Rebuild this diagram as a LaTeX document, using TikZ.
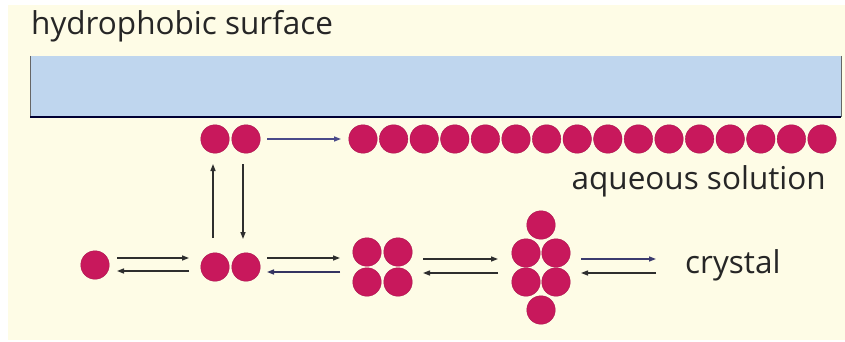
\documentclass[tikz,border=0pt]{standalone}
\usepackage{fontspec}
\setmainfont{Open Sans}
\usetikzlibrary{arrows.meta}
\definecolor{cream}{HTML}{FEFCE6}
\definecolor{surf}{HTML}{BFD6EE}
\definecolor{mol}{HTML}{C8185C}
\definecolor{arr}{HTML}{2E2E2E}
\definecolor{arrblue}{HTML}{4A4A8A}
\tikzset{
  molecule/.style={circle,fill=mol,draw=mol!85!black,line width=0.4pt,minimum size=28.5pt,inner sep=0pt},
  conn/.style={draw=arr,line width=1.3pt,-{Triangle[length=7pt,width=5pt]}},
  label/.style={inner sep=0pt,font=\fontsize{31.5}{34}\selectfont,text=black!85}
}
\begin{document}
\begin{tikzpicture}[x=1pt,y=-1pt]
\useasboundingbox (0,0) rectangle (845,342);
\fill[white] (0,0) rectangle (845,342);
\fill[cream] (8,5) rectangle (845,340);
% surface
\fill[surf] (30,56) rectangle (841,117);
\draw[black!60,line width=1pt] (30,56) -- (30,117);
\draw[black!60,line width=1pt] (841,56) -- (841,117);
\draw[black!80!blue,line width=2pt] (30,117) -- (841,117);
\node[label,anchor=base west] (hs) at (31,35) {hydrophobic surface};
\node[label,anchor=base east] (aq) at (826,189) {aqueous solution};
\node[label,anchor=base west] (cr) at (685,273) {crystal};
% top dimer
\node[molecule] (td1) at (215,139) {};
\node[molecule] (td2) at (246,139) {};
% surface layer
\foreach \i in {0,...,15} {
  \node[molecule] (s\i) at (363+30.6*\i,139) {};
}
% bottom row
\node[molecule] (m) at (95,265) {};
\node[molecule] (bd1) at (215,267) {};
\node[molecule] (bd2) at (246,267) {};
\node[molecule] (t1) at (367,252) {};
\node[molecule] (t2) at (398,252) {};
\node[molecule] (t3) at (367,282) {};
\node[molecule] (t4) at (398,282) {};
\node[molecule] (h1) at (541,225) {};
\node[molecule] (h2) at (526,253) {};
\node[molecule] (h3) at (556,253) {};
\node[molecule] (h4) at (526,282) {};
\node[molecule] (h5) at (556,282) {};
\node[molecule] (h6) at (541,310) {};
% arrow coordinates
\coordinate (a1s) at (117,258); \coordinate (a1e) at (189,258);
\coordinate (b1s) at (189,271); \coordinate (b1e) at (117,271);
\coordinate (a2s) at (267,258); \coordinate (a2e) at (340,258);
\coordinate (b2s) at (340,272); \coordinate (b2e) at (267,272);
\coordinate (a3s) at (423,259); \coordinate (a3e) at (498,259);
\coordinate (b3s) at (498,273); \coordinate (b3e) at (423,273);
\coordinate (a4s) at (581,259); \coordinate (a4e) at (656,259);
\coordinate (b4s) at (656,273); \coordinate (b4e) at (581,273);
\coordinate (us) at (213,238); \coordinate (ue) at (213,164);
\coordinate (ds) at (243,164); \coordinate (de) at (243,239);
\coordinate (ts) at (267,139); \coordinate (te) at (341,139);
\draw[conn] (a1s) -- (a1e);
\draw[conn] (b1s) -- (b1e);
\draw[conn] (a2s) -- (a2e);
\draw[conn,draw=arrblue!70!black] (b2s) -- (b2e);
\draw[conn] (a3s) -- (a3e);
\draw[conn] (b3s) -- (b3e);
\draw[conn,draw=arrblue!80!black] (a4s) -- (a4e);
\draw[conn] (b4s) -- (b4e);
\draw[conn] (us) -- (ue);
\draw[conn] (ds) -- (de);
\draw[conn,draw=arrblue] (ts) -- (te);
\end{tikzpicture}
\end{document}
